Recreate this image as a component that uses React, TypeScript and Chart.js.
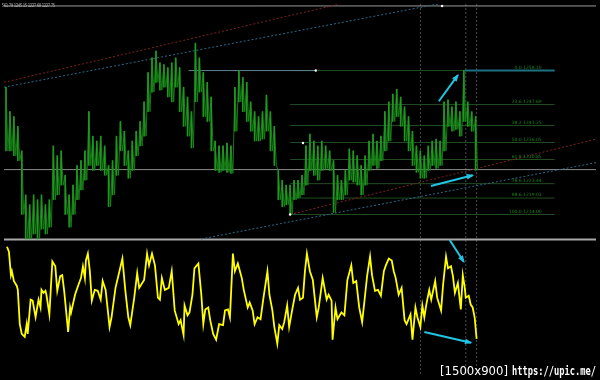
import React, { useEffect, useRef } from "react";
import { Chart, registerables } from "chart.js";

Chart.register(...registerables);

// ---------- text ----------
const headerText = "561.79 1245.15 1227.68 1227.75";
const watermarkSize = "[1500x900]";
const watermarkUrl = "https://upic.me/";

// ---------- price (high/low sampled every 4 bars, starting at bar 0) ----------
const priceStep = 4;
const priceHigh = [
  1253.0, 1245.5, 1244.0, 1241.0, 1233.5, 1220.0, 1217.0, 1220.0, 1218.5, 1220.0,
  1217.0, 1218.5, 1235.0, 1232.0, 1233.5, 1226.0, 1220.0, 1223.0, 1229.0, 1230.5,
  1233.5, 1245.5, 1238.0, 1236.5, 1238.0, 1235.0, 1229.0, 1230.5, 1238.0, 1242.5,
  1239.5, 1233.5, 1236.5, 1239.5, 1242.5, 1248.5, 1257.5, 1262.0, 1264.1, 1260.5,
  1259.9, 1259.0, 1260.5, 1262.0, 1259.0, 1253.0, 1250.0, 1245.5, 1266.5, 1262.0,
  1257.5, 1254.5, 1250.0, 1236.5, 1235.0, 1235.0, 1235.9, 1235.0, 1253.0, 1258.1,
  1256.0, 1254.5, 1248.5, 1245.5, 1244.0, 1245.5, 1250.6, 1245.5, 1241.0, 1227.5,
  1224.5, 1223.0, 1223.0, 1224.5, 1224.5, 1226.0, 1235.0, 1238.6, 1236.5, 1235.0,
  1236.5, 1235.0, 1233.5, 1230.5, 1226.0, 1224.5, 1227.5, 1234.1, 1233.5, 1232.0,
  1229.0, 1232.0, 1236.5, 1238.6, 1236.5, 1238.0, 1245.5, 1248.5, 1250.9, 1252.4,
  1250.0, 1247.0, 1244.0, 1239.5, 1235.0, 1233.5, 1232.0, 1235.0, 1236.5, 1237.1,
  1236.5, 1248.5, 1249.1, 1247.0, 1248.5, 1245.5, 1258.1, 1248.5, 1245.5, 1244.0,
];
const priceLow = [
  1233.5, 1233.5, 1232.0, 1230.5, 1214.0, 1206.5, 1206.5, 1208.0, 1206.5, 1209.5,
  1208.0, 1210.1, 1218.5, 1220.0, 1223.0, 1214.0, 1210.1, 1214.0, 1218.5, 1221.5,
  1224.5, 1229.0, 1227.5, 1229.0, 1227.5, 1226.0, 1216.4, 1220.0, 1226.0, 1233.5,
  1229.0, 1225.1, 1227.5, 1232.0, 1235.0, 1238.0, 1245.5, 1251.5, 1254.5, 1252.1,
  1253.0, 1250.0, 1248.5, 1253.0, 1245.5, 1241.0, 1238.0, 1234.4, 1248.5, 1251.5,
  1244.0, 1242.5, 1233.5, 1227.5, 1226.9, 1227.5, 1226.9, 1226.6, 1239.5, 1248.5,
  1245.5, 1242.5, 1239.5, 1236.5, 1236.5, 1237.1, 1239.5, 1233.5, 1229.0, 1218.5,
  1216.4, 1217.0, 1214.0, 1218.5, 1219.1, 1220.0, 1223.0, 1227.5, 1226.0, 1224.5,
  1227.5, 1228.1, 1227.5, 1214.6, 1218.5, 1218.5, 1220.0, 1224.5, 1223.9, 1223.0,
  1220.0, 1223.0, 1227.5, 1229.0, 1228.1, 1230.5, 1233.5, 1236.5, 1242.5, 1244.0,
  1241.0, 1236.5, 1233.5, 1229.0, 1226.9, 1225.1, 1225.1, 1227.5, 1229.0, 1228.1,
  1229.0, 1233.5, 1241.0, 1239.5, 1240.1, 1238.0, 1242.5, 1241.0, 1239.5, 1227.5,
];

// ---------- oscillator ----------
const oscBar = [
  1, 3, 5, 6, 8, 11, 12, 14, 16, 19,
  21, 22, 25, 27, 30, 33, 35, 36, 38, 40,
  41, 44, 47, 50, 52, 55, 57, 59, 63, 65,
  66, 70, 73, 76, 78, 80, 81, 83, 85, 87,
  90, 93, 96, 98, 101, 105, 107, 111, 115, 118,
  121, 124, 126, 130, 133, 135, 140, 143, 145, 148,
  151, 154, 156, 158, 161, 165, 168, 171, 175, 177,
  180, 181, 184, 186, 189, 191, 195, 198, 200, 202,
  205, 207, 210, 213, 216, 220, 222, 225, 227, 230,
  232, 235, 239, 241, 245, 247, 250, 252, 255, 258,
  261, 265, 267, 270, 272, 275, 277, 280, 282, 285,
  287, 290, 293, 296, 298, 301, 303, 305, 308, 311,
  315, 317, 321, 325, 327, 330, 331, 334, 336, 340,
  343, 346, 350, 352, 355, 358, 361, 364, 366, 369,
  371, 374, 377, 380, 383, 385, 388, 391, 393, 395,
  398, 401, 404, 406, 410, 412, 415, 417, 420, 422,
  424, 426, 429, 431, 435, 437, 441, 443, 446, 448,
  451, 453, 455, 458, 461, 463, 465, 466, 469, 471,
  473, 475, 477,
];
const oscValue = [
  102, 97, 73, 77, 67, 62, 58, 23, 13, 10,
  23, 13, 48, 47, 30, 48, 40, 58, 55, 57,
  53, 33, 87, 82, 57, 72, 73, 57, 15, 40,
  35, 53, 62, 70, 82, 70, 88, 95, 77, 47,
  58, 57, 48, 67, 58, 20, 30, 60, 77, 90,
  57, 30, 22, 50, 75, 60, 68, 95, 83, 95,
  83, 50, 48, 70, 58, 60, 77, 37, 23, 27,
  12, 42, 32, 35, 53, 80, 85, 53, 23, 38,
  40, 27, 13, 7, 23, 22, 37, 38, 30, 95,
  77, 85, 70, 58, 40, 45, 37, 23, 30, 28,
  50, 77, 53, 37, 20, 3, 22, 18, 25, 42,
  20, 37, 53, 60, 48, 50, 77, 95, 77, 68,
  30, 40, 70, 48, 53, 47, 7, 40, 28, 35,
  32, 68, 83, 65, 67, 40, 25, 53, 72, 92,
  73, 57, 58, 52, 77, 83, 90, 88, 77, 70,
  53, 60, 27, 23, 33, 7, 40, 30, 20, 42,
  30, 43, 58, 48, 67, 50, 37, 63, 92, 80,
  82, 72, 55, 65, 38, 73, 60, 50, 52, 43,
  40, 30, 8,
];

// ---------- fibonacci ----------
const fibLabels = ["0.0", "23.6", "38.2", "50.0", "61.8", "78.6", "88.6", "100.0"];
const fibPrices = [1258.10, 1247.69, 1241.25, 1236.05, 1230.85, 1223.44, 1219.03, 1214.00];
const fibStartBar = 288;
const fibEndBar = 556;
const fibZeroStartBar = 465;
const fibLabelBar = 543;

// ---------- other objects ----------
const currentPrice = 1227.75;
const topLevelPrice = 1277.9;
const resistancePrice = 1258.1;
const resistanceFromBar = 185;
const resistanceToBar = 314;
const verticalBars = [420, 466, 477];

const redUpper = [[-2, 1254.5], [338, 1278.5]];
const blueUpper = [[-2, 1253.0], [438, 1278.5]];
const redLower = [[288, 1214.0], [598, 1237.1]];
const blueLower = [[198, 1206.5], [598, 1229.9]];

const anchorDots = [[288, 1214.0], [301, 1235.9], [314, 1258.1], [442, 1277.9]];
const priceArrows = [
  [[438.7, 1248.7], [458, 1256.7]],
  [[430.7, 1222.7], [473, 1226.0]],
];
const oscArrows = [
  [[449.7, 109], [464, 86.7]],
  [[424, 15], [471.3, 4]],
];

// ---------- axis ranges ----------
const xMin = -2, xMax = 598;
const priceMin = 1164.5, priceMax = 1278.5;
const oscMin = -30, oscMax = 350;
const separatorValue = 109.5;

export default function App() {
  const ref = useRef<HTMLCanvasElement>(null);

  useEffect(() => {
    const canvas = ref.current;
    if (!canvas) return;

    const pt = (a: number[]) => ({ x: a[0], y: a[1] });
    const seg = (pts: number[][], color: string, width: number, dash: number[], axis: string, order: number, extra: any = {}) => ({
      type: "line",
      data: pts.map(pt),
      borderColor: color,
      borderWidth: width,
      borderDash: dash,
      yAxisID: axis,
      pointRadius: 0,
      order,
      ...extra,
    });

    const datasets: any[] = [];
    verticalBars.forEach((b) => datasets.push(seg([[b, priceMax], [b, priceMin]], "#4a4a4a", 1, [2, 2], "y", 30)));
    datasets.push(seg([[xMin, topLevelPrice], [xMax, topLevelPrice]], "#9a9a9a", 1, [], "y", 25));
    datasets.push(seg([[xMin, currentPrice], [xMax, currentPrice]], "#8c8c8c", 1, [], "y", 25));
    datasets.push(seg([[xMin, separatorValue], [xMax, separatorValue]], "#a8a8a8", 2, [], "y2", 25));

    fibPrices.forEach((p) => datasets.push(seg([[fibStartBar, p], [fibEndBar, p]], "#214d21", 1, [], "y", 20)));
    datasets.push(seg([[fibZeroStartBar, fibPrices[0]], [fibEndBar, fibPrices[0]]], "#1d7080", 2, [], "y", 19));
    datasets.push(seg([[resistanceFromBar, resistancePrice], [resistanceToBar, resistancePrice]], "#5f8096", 1, [], "y", 19));

    datasets.push(seg(redUpper, "#7e2222", 1, [2, 2], "y", 18));
    datasets.push(seg(blueUpper, "#2c6a8a", 1, [2, 2], "y", 18));
    datasets.push(seg(redLower, "#7e2222", 1, [2, 2], "y", 18));
    datasets.push(seg(blueLower, "#2c6a8a", 1, [2, 2], "y", 18));

    datasets.push({
      type: "bar",
      data: priceHigh.map((h, i) => ({ x: i * priceStep, y: [priceLow[i], h] })),
      backgroundColor: "#1f981f",
      borderWidth: 0,
      barThickness: 1,
      yAxisID: "y",
      order: 10,
    });
    const zig: any[] = [];
    priceHigh.forEach((h, i) => {
      zig.push({ x: i * priceStep, y: h });
      zig.push({ x: i * priceStep + priceStep / 2, y: priceLow[i] });
    });
    datasets.push({ type: "line", data: zig, borderColor: "#1a861a", borderWidth: 0.9, pointRadius: 0, yAxisID: "y", order: 10 });

    const n = Math.min(oscBar.length, oscValue.length);
    datasets.push({
      type: "line",
      data: oscBar.slice(0, n).map((b, i) => ({ x: b, y: oscValue[i] })),
      borderColor: "#ffff00",
      borderWidth: 1.8,
      pointRadius: 0,
      yAxisID: "y2",
      order: 10,
    });

    priceArrows.forEach((a) => datasets.push(seg(a, "#22c4e4", 2, [], "y", 2, { arrow: true })));
    oscArrows.forEach((a) => datasets.push(seg(a, "#22c4e4", 2, [], "y2", 2, { arrow: true })));

    datasets.push({
      type: "line",
      data: anchorDots.map(pt),
      showLine: false,
      pointRadius: 1.2,
      pointBackgroundColor: "#ffffff",
      pointBorderWidth: 0,
      yAxisID: "y",
      order: 1,
    });

    const overlay = {
      id: "overlay",
      beforeDraw(chart: any) {
        const c = chart.ctx;
        c.save();
        c.fillStyle = "#000";
        c.fillRect(0, 0, chart.width, chart.height);
        c.restore();
      },
      afterDatasetsDraw(chart: any) {
        const c = chart.ctx;
        chart.data.datasets.forEach((ds: any, i: number) => {
          if (!ds.arrow) return;
          const meta = chart.getDatasetMeta(i);
          const a = meta.data[0], b = meta.data[1];
          if (!a || !b) return;
          const ang = Math.atan2(b.y - a.y, b.x - a.x);
          const len = 6, hw = 2.8;
          const bx = b.x - len * Math.cos(ang), by = b.y - len * Math.sin(ang);
          c.save();
          c.fillStyle = ds.borderColor;
          c.beginPath();
          c.moveTo(b.x + 1.5 * Math.cos(ang), b.y + 1.5 * Math.sin(ang));
          c.lineTo(bx - hw * Math.sin(ang), by + hw * Math.cos(ang));
          c.lineTo(bx + hw * Math.sin(ang), by - hw * Math.cos(ang));
          c.closePath();
          c.fill();
          c.restore();
        });
      },
      afterDraw(chart: any) {
        const c = chart.ctx;
        const xs = chart.scales.x, ys = chart.scales.y;
        c.save();
        c.font = "4.5px 'DejaVu Sans'";
        c.fillStyle = "#1c821c";
        c.textAlign = "right";
        c.textBaseline = "bottom";
        fibPrices.forEach((p, i) => {
          c.fillText(fibLabels[i] + " " + p.toFixed(2), xs.getPixelForValue(fibLabelBar), ys.getPixelForValue(p) - 0.5);
        });
        c.textAlign = "left";
        c.textBaseline = "top";
        c.fillStyle = "#d0d0d0";
        c.font = "5px 'DejaVu Sans'";
        c.fillText(headerText, 2, 3.5, 53);
        c.fillStyle = "#ffffff";
        c.textBaseline = "alphabetic";
        c.font = "13px 'DejaVu Sans'";
        c.fillText(watermarkSize, 440, 375, 68);
        c.font = "bold 13px 'DejaVu Sans Mono'";
        c.fillText(watermarkUrl, 512, 375, 84);
        c.restore();
      },
    };

    const chart = new Chart(canvas, {
      type: "line",
      data: { datasets },
      options: {
        responsive: false,
        animation: false,
        devicePixelRatio: 1,
        events: [],
        layout: { padding: 0 },
        plugins: { legend: { display: false }, tooltip: { enabled: false } },
        scales: {
          x: { type: "linear", min: xMin, max: xMax, display: false, offset: false },
          y: { type: "linear", min: priceMin, max: priceMax, display: false },
          y2: { type: "linear", min: oscMin, max: oscMax, display: false },
        },
      },
      plugins: [overlay],
    } as any);

    return () => chart.destroy();
  }, []);

  return (
    <div style={{ position: "fixed", left: 0, top: 0, width: 600, height: 380, background: "#000" }}>
      <canvas ref={ref} width={600} height={380} style={{ display: "block" }} />
    </div>
  );
}
